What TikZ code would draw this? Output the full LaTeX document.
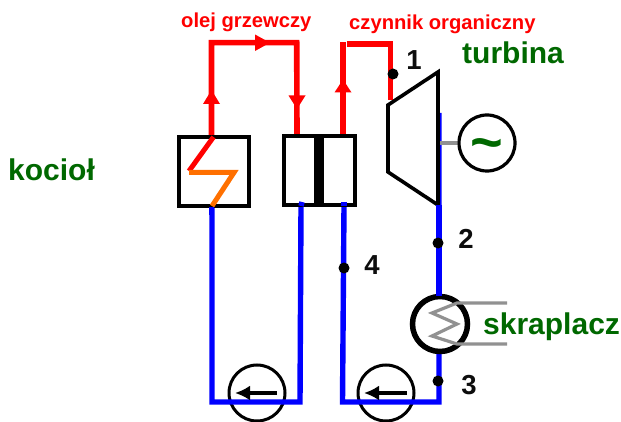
\documentclass[tikz,border=0pt]{standalone}
\usepackage{fontspec}
\setmainfont{Liberation Sans}
\usetikzlibrary{arrows.meta}
\definecolor{dgreen}{RGB}{0,104,0}
\definecolor{oilred}{RGB}{255,0,0}
\definecolor{wblue}{RGB}{0,0,255}
\definecolor{coilorange}{RGB}{255,112,0}
\definecolor{shaft}{RGB}{145,145,145}
\tikzset{
  redpipe/.style={draw=oilred,line width=5.6pt},
  bluepipe/.style={draw=wblue,line width=5.4pt},
  outline/.style={draw=black,line width=3.6pt},
  thincirc/.style={draw=black,line width=3pt,circle,minimum size=56pt,inner sep=0pt,fill=white},
  coil/.style={draw=shaft,line width=3.2pt},
  statept/.style={fill=black,circle,minimum size=11pt,inner sep=0pt},
  numlabel/.style={font=\bfseries\fontsize{27.5}{28}\selectfont,text=black!95,inner sep=0pt},
  eqlabel/.style={font=\bfseries\fontsize{30}{30}\selectfont,text=dgreen,inner sep=0pt},
  redlabel/.style={font=\bfseries\fontsize{20.2}{20}\selectfont,text=oilred,inner sep=0pt},
  head/.style={fill=oilred},
  pumptip/.style={-{Latex[length=15pt,width=15pt]},line width=4.8pt}
}
\begin{document}
\begin{tikzpicture}[x=1pt,y=-1pt]
\useasboundingbox (0,0) rectangle (621,422);
\clip (0,0) rectangle (621,422);
% key points
\coordinate (hT) at (211.5,136);
\coordinate (hB) at (212,206);
\coordinate (xTl) at (297,134);
\coordinate (xTr) at (343,134);
\coordinate (xBl) at (301,206);
\coordinate (xBr) at (344,206);
\coordinate (tIn) at (390.5,100);
\coordinate (tOut) at (439,113);
\coordinate (cOut) at (439,402);
% pump circles (under the pipes)
\node[thincirc] (p1) at (257,393) {};
\node[thincirc] (p2) at (386,393) {};
% blue pipes
\draw[bluepipe,miter limit=4] (hB) -- (212,402) -- (300,402) -- (xBl);
\draw[bluepipe] (xBr) -- (342.5,402) -- (cOut) -- (tOut);
\draw[wblue,line width=2pt] (211,113) -- (hT);
% pump arrows
\coordinate (a1s) at (277,393); \coordinate (a1e) at (235,393);
\coordinate (a2s) at (407,393); \coordinate (a2e) at (364,393);
\draw[pumptip] (a1s) -- (a1e);
\draw[pumptip] (a2s) -- (a2e);
% red pipes
\draw[redpipe] (hT) -- (211.5,42.7) -- (296.7,42.7) -- (xTl);
\draw[redpipe] (xTr) -- (343,42);
\draw[redpipe] (347,44) -- (390.5,44) -- (tIn);
\fill[head] (203,104) -- (211.5,90) -- (220,104) -- cycle;
\fill[head] (255,34.5) -- (270,42.7) -- (255,51) -- cycle;
\fill[head] (288.5,95.5) -- (297,109) -- (305.5,95.5) -- cycle;
\fill[head] (334.5,92.5) -- (343,79.5) -- (351.5,92.5) -- cycle;
% boiler
\node[outline,minimum width=70pt,minimum height=69pt,inner sep=0pt] (boiler) at (214,171.5) {};
\draw[oilred,line width=5pt] (213.5,137) -- (189,171);
\draw[coilorange,line width=5pt] (189,172.5) -- (234,172.5) -- (212,206);
% exchanger
\node[outline,minimum width=71pt,minimum height=69pt,inner sep=0pt] (hx) at (319.5,170.5) {};
\fill[black] (314,136) rectangle (324,205);
\draw[wblue,line width=5.5pt] (302,202) -- (xBl);
\draw[wblue,line width=5.5pt] (344,202) -- (xBr);
\draw[wblue,line width=5.5pt] (211.5,207) -- (211.5,215);
% turbine
\draw[outline,line join=miter] (388,105) -- (438,72) -- (438,205) -- (388,172) -- cycle;
% generator
\node[draw=black,line width=3.2pt,circle,minimum size=56pt,inner sep=0pt] (gen) at (487,143) {};
\node[font=\bfseries\fontsize{56}{56}\selectfont,text=dgreen,inner sep=0pt] (tilde) at (487,150) {\char"007E};
\draw[shaft,line width=3.4pt] (440,143) -- (gen);
% condenser
\node[draw=black,line width=5.5pt,circle,minimum size=55pt,inner sep=0pt,fill=white] (cond) at (440,324) {};
\draw[wblue,line width=5.4pt] (439,205) -- (439,295.5);
\draw[coil,line join=miter] (507,303) -- (457,303) -- (432,313) -- (457,324) -- (432,336) -- (457,344) -- (507,344);
% state points
\node[statept] (s1) at (393,74) {};
\node[statept] (s2) at (438,243) {};
\node[statept] (s3) at (438,381) {};
\node[statept] (s4) at (344,268) {};
% labels
\node[numlabel] (n1) at (414,60.5) {1};
\node[numlabel] (n2) at (466,238.5) {2};
\node[numlabel] (n3) at (469,385.5) {3};
\node[numlabel] (n4) at (372,265.5) {4};
\node[eqlabel,anchor=west] (kociol) at (8,170) {kocioł};
\node[eqlabel,anchor=west] (turbina) at (462,53) {turbina};
\node[eqlabel,anchor=west] (skraplacz) at (483,327) {skraplacz};
\node[redlabel,anchor=west] (olej) at (181,22) {olej grzewczy};
\node[redlabel,anchor=west] (czynnik) at (349,24) {czynnik organiczny};
\end{tikzpicture}
\end{document}
